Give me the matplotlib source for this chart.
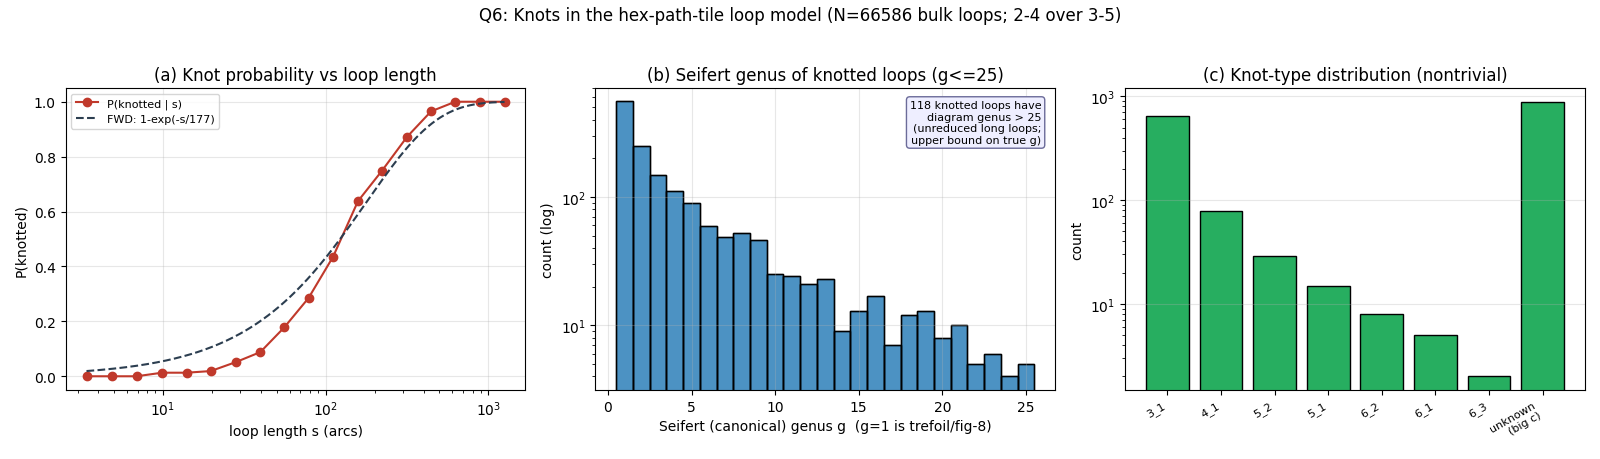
import numpy as np
import matplotlib
matplotlib.use('Agg')
import matplotlib.pyplot as plt

# --- Q6: knots in the hex-path-tile loop model ---

# (a) knot probability vs loop length (log-binned centres)
s_arcs = [3.4, 4.9, 6.9, 9.9, 14.0, 19.7, 28.2, 39.7, 55.7, 78.5,
          111, 158, 222, 316, 444, 625, 886, 1255]
p_knotted = [0.0, 0.0, 0.0, 0.013, 0.013, 0.019, 0.052, 0.088, 0.178, 0.285,
             0.435, 0.638, 0.749, 0.872, 0.965, 1.0, 1.0, 1.0]
s_fwd = 177  # fitted knotting length

# (b) Seifert genus histogram, g = 1..25
genus = list(range(1, 26))
genus_count = [555, 249, 149, 112, 89, 59, 49, 52, 46, 25, 24, 21, 23,
               9, 13, 17, 7, 12, 13, 8, 10, 5, 6, 4, 5]
n_over = 118

# (c) knot-type distribution
knot_types = ['3_1', '4_1', '5_2', '5_1', '6_2', '6_1', '6_3', 'unknown\n(big c)']
knot_count = [652, 78, 29, 15, 8, 5, 2, 889]

RED = '#c0392b'
NAVY = '#2c3e50'
GREEN = '#27ae60'

fig, axes = plt.subplots(1, 3, figsize=(16, 4.6), dpi=100)
fig.suptitle('Q6: Knots in the hex-path-tile loop model (N=66586 bulk loops; 2-4 over 3-5)',
             fontsize=12, y=0.985)

# (a)
ax = axes[0]
s = np.array(s_arcs)
ax.plot(s, p_knotted, 'o-', color=RED, markersize=6, linewidth=1.5, label='P(knotted | s)')
s_fine = np.geomspace(s.min(), s.max(), 300)
ax.plot(s_fine, 1 - np.exp(-s_fine / s_fwd), '--', color=NAVY, linewidth=1.5,
        label=f'FWD: 1-exp(-s/{s_fwd})')
ax.set_xscale('log')
ax.set_xlabel('loop length s (arcs)')
ax.set_ylabel('P(knotted)')
ax.set_title('(a) Knot probability vs loop length')
ax.grid(True, alpha=0.3)
ax.legend(loc='upper left', fontsize=8)

# (b)
ax = axes[1]
ax.bar(genus, genus_count, width=1.0, color='#1f77b4', alpha=0.8, edgecolor='black', linewidth=1.0)
ax.bar(genus, genus_count, width=1.0, fill=False, edgecolor='black', linewidth=1.0)
ax.set_yscale('log')
ax.set_ylim(3.13, 705)
ax.set_xlabel('Seifert (canonical) genus g  (g=1 is trefoil/fig-8)')
ax.set_ylabel('count (log)')
ax.set_title('(b) Seifert genus of knotted loops (g<=25)')
ax.grid(True, alpha=0.3)
ax.text(0.97, 0.96, f'{n_over} knotted loops have\ndiagram genus > 25\n(unreduced long loops;\nupper bound on true g)',
        transform=ax.transAxes, ha='right', va='top', fontsize=8,
        bbox=dict(boxstyle='round', facecolor='#eeeeff', edgecolor='#6b6b99'))

# (c)
ax = axes[2]
x = np.arange(len(knot_types))
ax.bar(x, knot_count, width=0.8, color=GREEN, edgecolor='black', linewidth=1.0)
ax.set_yscale('log')
ax.set_ylim(1.476, 1205)
ax.set_xticks(x)
ax.set_xticklabels(knot_types, rotation=30, ha='right', fontsize=8)
ax.set_ylabel('count')
ax.set_title('(c) Knot-type distribution (nontrivial)')
ax.grid(True, axis='y', alpha=0.3)

plt.subplots_adjust(left=0.041, right=0.9906, top=0.8065, bottom=0.15, wspace=0.152)
plt.savefig('out.png')
